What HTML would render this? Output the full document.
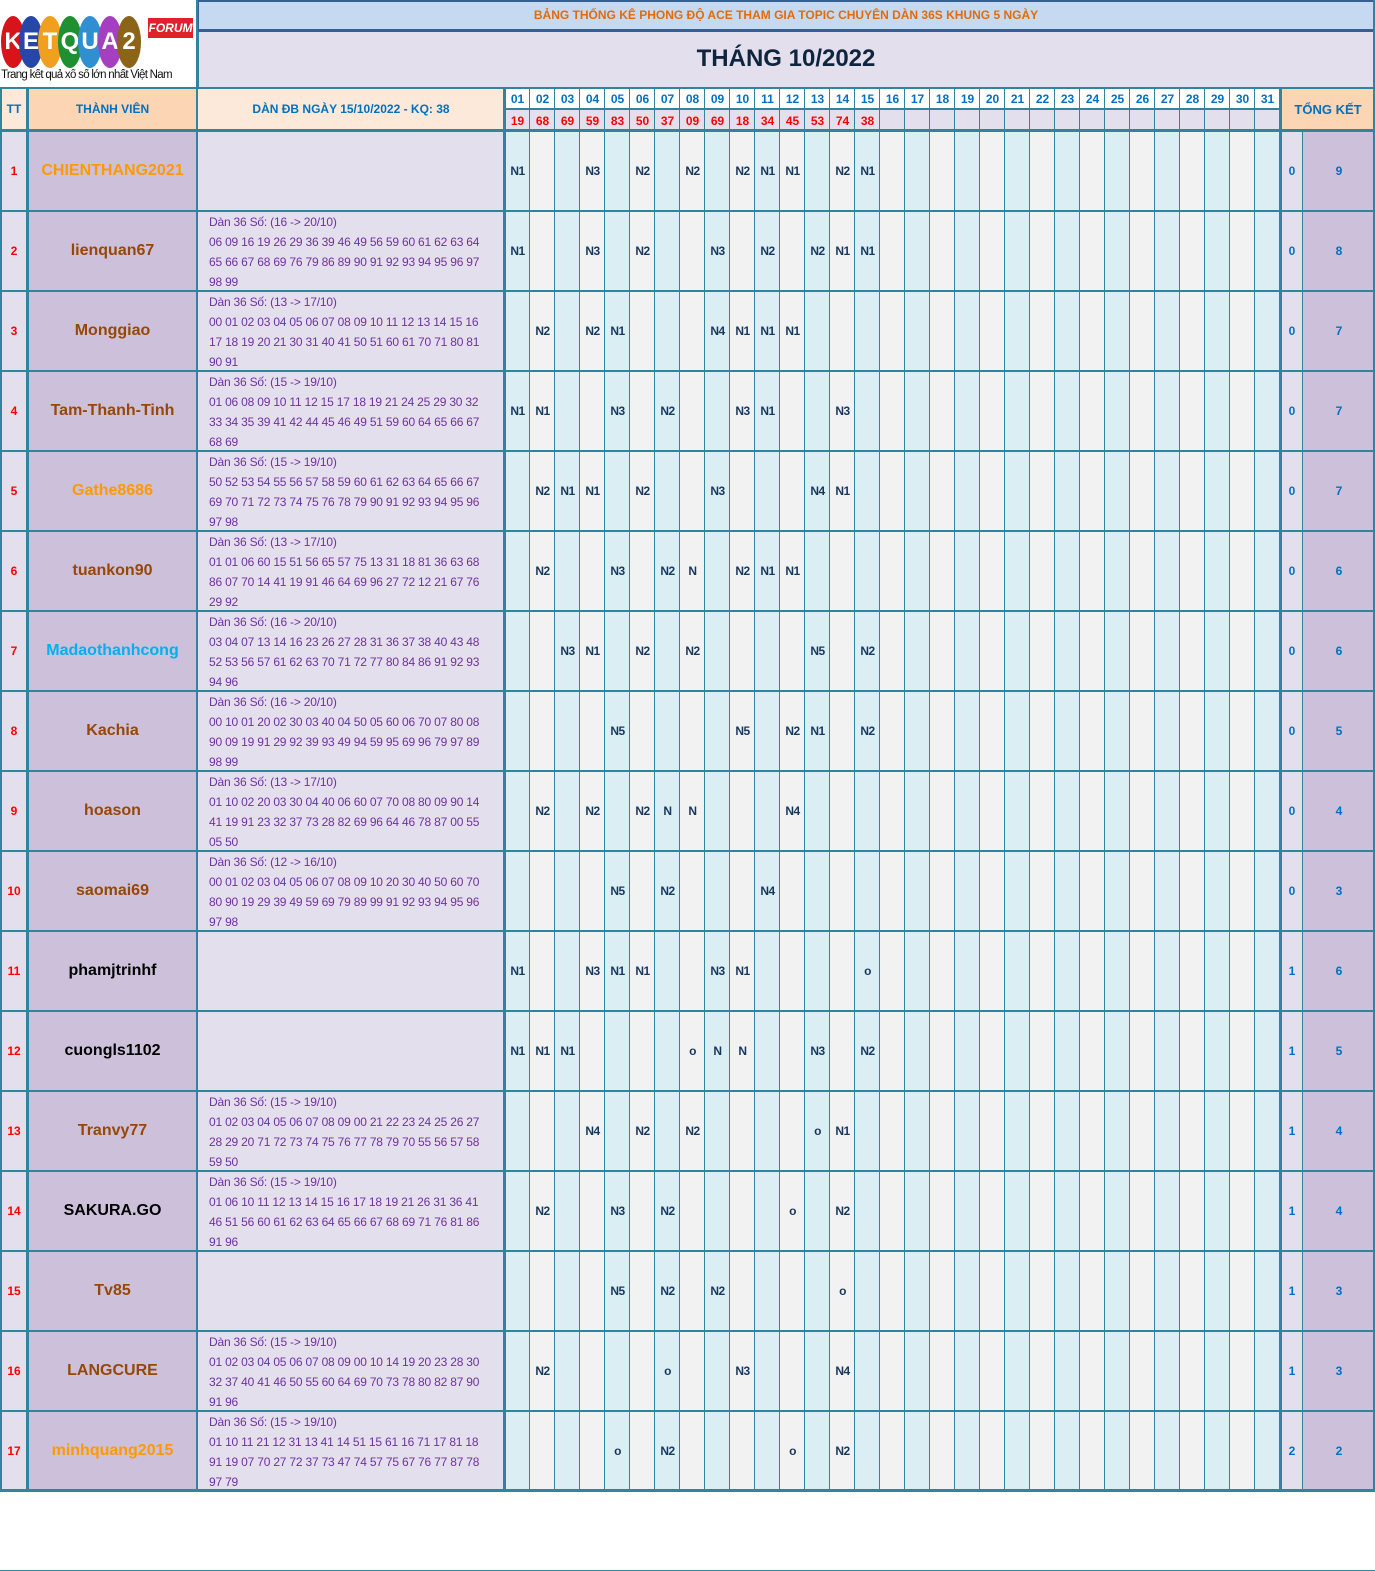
<!DOCTYPE html>
<html><head><meta charset="utf-8">
<style>
*{margin:0;padding:0;box-sizing:border-box}
body{width:1375px;height:1492px;background:#fff;position:relative;overflow:hidden;font-family:"Liberation Sans",sans-serif}
.a{position:absolute}
.row{position:absolute;left:0;width:1375px;height:80px}
.c{position:absolute;top:0;width:25px;line-height:80px;text-align:center;font-weight:bold;font-size:12px;color:#17375e;letter-spacing:-0.5px}
.tt{position:absolute;left:0;width:28px;line-height:80px;text-align:center;color:#ff0000;font-weight:bold;font-size:12px}
.nm{position:absolute;left:28px;width:169px;line-height:80px;text-align:center;font-weight:bold;font-size:16px;color:#974706}
.dn{position:absolute;left:209px;top:1px;width:292px;font-size:12px;line-height:20px;color:#7030a0;white-space:nowrap;letter-spacing:-0.2px}
.t1{position:absolute;left:1281px;width:22px;line-height:80px;text-align:center;color:#0070c0;font-weight:bold;font-size:12px}
.t2{position:absolute;left:1303px;width:72px;line-height:80px;text-align:center;color:#0070c0;font-weight:bold;font-size:12px}
.hd{position:absolute;width:25px;text-align:center;font-size:12px;font-weight:bold}
.oval{position:absolute;top:16px;width:24px;height:52px;border-radius:50%;color:#fff;font-weight:bold;font-size:24px;line-height:52px;text-align:center;font-family:"Liberation Sans",sans-serif}
</style></head><body>
<!-- logo -->
<div class="a" style="left:0;top:0;width:197px;height:88px;background:#fff"></div>
<div class="oval" style="left:1px;background:#d7141a">K</div>
<div class="oval" style="left:19px;background:#2747a8">E</div>
<div class="oval" style="left:38px;background:#f0a01e">T</div>
<div class="oval" style="left:58px;background:#1e9032">Q</div>
<div class="oval" style="left:78px;background:#2f8fd0">U</div>
<div class="oval" style="left:98px;background:#a53fc0">A</div>
<div class="oval" style="left:117px;background:#8b6418">2</div>
<div class="a" style="left:148px;top:18px;width:45px;height:20px;background:#e0202a;color:#fff;font-size:12px;font-weight:bold;font-style:italic;text-align:center;line-height:20px">FORUM</div>
<div class="a" style="left:1px;top:69px;width:195px;font-size:11.5px;color:#111;white-space:nowrap;letter-spacing:-0.7px;overflow:hidden">Trang kết quả xổ số lớn nhất Việt Nam</div>
<!-- title -->
<div class="a" style="left:197px;top:0;width:1178px;height:30px;background:#c5d9f1;border-left:2px solid #366092;border-top:2px solid #366092;border-right:2px solid #366092"></div>
<div class="a" style="left:197px;top:8px;width:1178px;text-align:center;color:#e26b0a;font-size:12px;font-weight:bold">BẢNG THỐNG KÊ PHONG ĐỘ ACE THAM GIA TOPIC CHUYÊN DÀN 36S KHUNG 5 NGÀY</div>
<div class="a" style="left:197px;top:29px;width:1178px;height:3px;background:#366092"></div>
<div class="a" style="left:197px;top:32px;width:1178px;height:56px;background:#e4dfec;border-left:2px solid #31849b;border-right:2px solid #31849b"></div>
<div class="a" style="left:197px;top:45px;width:1178px;text-align:center;color:#0f243e;font-size:24px;font-weight:bold">THÁNG 10/2022</div>
<!-- header row -->
<div class="a" style="left:0;top:88px;width:28px;height:43px;background:#fde9d9"></div>
<div class="a" style="left:28px;top:88px;width:169px;height:43px;background:#fcd5b4"></div>
<div class="a" style="left:197px;top:88px;width:308px;height:43px;background:#fde9d9"></div>
<div class="a" style="left:505px;top:88px;width:776px;height:22px;background:#fff"></div>
<div class="a" style="left:505px;top:110px;width:776px;height:21px;background:#e4dfec"></div>
<div class="a" style="left:1281px;top:88px;width:94px;height:43px;background:#fcd5b4"></div>
<div class="a" style="left:0;top:102px;width:28px;text-align:center;color:#0070c0;font-size:12px;font-weight:bold">TT</div>
<div class="a" style="left:28px;top:102px;width:169px;text-align:center;color:#0070c0;font-size:12px;font-weight:bold">THÀNH VIÊN</div>
<div class="a" style="left:197px;top:102px;width:308px;text-align:center;color:#0070c0;font-size:12px;font-weight:bold">DÀN ĐB NGÀY 15/10/2022 - KQ: 38</div>
<div class="a" style="left:1281px;top:102px;width:94px;text-align:center;color:#0070c0;font-size:13px;font-weight:bold">TỔNG KẾT</div>
<!-- body backgrounds -->
<div class="a" style="left:0;top:131px;width:28px;height:1361px;background:#e4dfec"></div>
<div class="a" style="left:28px;top:131px;width:169px;height:1361px;background:#ccc0da"></div>
<div class="a" style="left:197px;top:131px;width:308px;height:1361px;background:#e4dfec"></div>
<div class="a" style="left:505px;top:131px;width:775px;height:1361px;background:repeating-linear-gradient(90deg,#daeef3 0,#daeef3 25px,#f2f2f2 25px,#f2f2f2 50px)"></div>
<div class="a" style="left:1281px;top:131px;width:22px;height:1361px;background:#e4dfec"></div>
<div class="a" style="left:1303px;top:131px;width:72px;height:1361px;background:#ccc0da"></div>
<!-- vertical thin lines in day area -->
<div class="a" style="left:505px;top:88px;width:776px;height:1404px;background:repeating-linear-gradient(90deg,transparent 0,transparent 24px,#31849b 24px,#31849b 25px)"></div>
<!-- thick verticals -->
<div class="a" style="left:0;top:88px;width:2px;height:1404px;background:#31849b"></div>
<div class="a" style="left:26px;top:88px;width:3px;height:1404px;background:#31849b"></div>
<div class="a" style="left:196px;top:0;width:2px;height:1492px;background:#31849b"></div>
<div class="a" style="left:503px;top:88px;width:3px;height:1404px;background:#31849b"></div>
<div class="a" style="left:1279px;top:88px;width:3px;height:1404px;background:#31849b"></div>
<div class="a" style="left:1302px;top:131px;width:1px;height:1361px;background:#31849b"></div>
<div class="a" style="left:1373px;top:0;width:2px;height:1492px;background:#31849b"></div>
<!-- header lines -->
<div class="a" style="left:0;top:87px;width:1375px;height:2px;background:#31849b"></div>
<div class="a" style="left:505px;top:108px;width:776px;height:2px;background:#31849b"></div>
<div class="a" style="left:0;top:129px;width:1375px;height:3px;background:#31849b"></div>
<!-- horizontal row lines -->
<div class="a" style="left:0;top:210px;width:1375px;height:1361px;background:repeating-linear-gradient(180deg,#31849b 0,#31849b 2px,transparent 2px,transparent 80px)"></div>
<div class="a" style="left:0;top:1489px;width:1375px;height:3px;background:#31849b"></div>
<!-- day numbers -->
<div class="a" style="left:505px;top:92px;width:776px;display:flex;color:#0070c0;font-size:12px">
<span class="hd" style="position:static">01</span><span class="hd" style="position:static">02</span><span class="hd" style="position:static">03</span><span class="hd" style="position:static">04</span><span class="hd" style="position:static">05</span><span class="hd" style="position:static">06</span><span class="hd" style="position:static">07</span><span class="hd" style="position:static">08</span><span class="hd" style="position:static">09</span><span class="hd" style="position:static">10</span><span class="hd" style="position:static">11</span><span class="hd" style="position:static">12</span><span class="hd" style="position:static">13</span><span class="hd" style="position:static">14</span><span class="hd" style="position:static">15</span><span class="hd" style="position:static">16</span><span class="hd" style="position:static">17</span><span class="hd" style="position:static">18</span><span class="hd" style="position:static">19</span><span class="hd" style="position:static">20</span><span class="hd" style="position:static">21</span><span class="hd" style="position:static">22</span><span class="hd" style="position:static">23</span><span class="hd" style="position:static">24</span><span class="hd" style="position:static">25</span><span class="hd" style="position:static">26</span><span class="hd" style="position:static">27</span><span class="hd" style="position:static">28</span><span class="hd" style="position:static">29</span><span class="hd" style="position:static">30</span><span class="hd" style="position:static">31</span>
</div>
<div class="a" style="left:505px;top:114px;width:400px;display:flex;color:#ff0000;font-size:12px">
<span class="hd" style="position:static">19</span><span class="hd" style="position:static">68</span><span class="hd" style="position:static">69</span><span class="hd" style="position:static">59</span><span class="hd" style="position:static">83</span><span class="hd" style="position:static">50</span><span class="hd" style="position:static">37</span><span class="hd" style="position:static">09</span><span class="hd" style="position:static">69</span><span class="hd" style="position:static">18</span><span class="hd" style="position:static">34</span><span class="hd" style="position:static">45</span><span class="hd" style="position:static">53</span><span class="hd" style="position:static">74</span><span class="hd" style="position:static">38</span>
</div>

<!-- rows -->
<div class="row" style="top:131px"><div class="tt">1</div><div class="nm" style="color:#ff9900">CHIENTHANG2021</div>
<div class="c" style="left:505px">N1</div><div class="c" style="left:580px">N3</div><div class="c" style="left:630px">N2</div><div class="c" style="left:680px">N2</div><div class="c" style="left:730px">N2</div><div class="c" style="left:755px">N1</div><div class="c" style="left:780px">N1</div><div class="c" style="left:830px">N2</div><div class="c" style="left:855px">N1</div>
<div class="t1">0</div><div class="t2">9</div></div>

<div class="row" style="top:211px"><div class="tt">2</div><div class="nm">lienquan67</div>
<div class="dn">Dàn 36 Số: (16 -&gt; 20/10)<br>06 09 16 19 26 29 36 39 46 49 56 59 60 61 62 63 64<br>65 66 67 68 69 76 79 86 89 90 91 92 93 94 95 96 97<br>98 99</div>
<div class="c" style="left:505px">N1</div><div class="c" style="left:580px">N3</div><div class="c" style="left:630px">N2</div><div class="c" style="left:705px">N3</div><div class="c" style="left:755px">N2</div><div class="c" style="left:805px">N2</div><div class="c" style="left:830px">N1</div><div class="c" style="left:855px">N1</div>
<div class="t1">0</div><div class="t2">8</div></div>

<div class="row" style="top:291px"><div class="tt">3</div><div class="nm">Monggiao</div>
<div class="dn">Dàn 36 Số: (13 -&gt; 17/10)<br>00 01 02 03 04 05 06 07 08 09 10 11 12 13 14 15 16<br>17 18 19 20 21 30 31 40 41 50 51 60 61 70 71 80 81<br>90 91</div>
<div class="c" style="left:530px">N2</div><div class="c" style="left:580px">N2</div><div class="c" style="left:605px">N1</div><div class="c" style="left:705px">N4</div><div class="c" style="left:730px">N1</div><div class="c" style="left:755px">N1</div><div class="c" style="left:780px">N1</div>
<div class="t1">0</div><div class="t2">7</div></div>

<div class="row" style="top:371px"><div class="tt">4</div><div class="nm">Tam-Thanh-Tinh</div>
<div class="dn">Dàn 36 Số: (15 -&gt; 19/10)<br>01 06 08 09 10 11 12 15 17 18 19 21 24 25 29 30 32<br>33 34 35 39 41 42 44 45 46 49 51 59 60 64 65 66 67<br>68 69</div>
<div class="c" style="left:505px">N1</div><div class="c" style="left:530px">N1</div><div class="c" style="left:605px">N3</div><div class="c" style="left:655px">N2</div><div class="c" style="left:730px">N3</div><div class="c" style="left:755px">N1</div><div class="c" style="left:830px">N3</div>
<div class="t1">0</div><div class="t2">7</div></div>

<div class="row" style="top:451px"><div class="tt">5</div><div class="nm" style="color:#ff9900">Gathe8686</div>
<div class="dn">Dàn 36 Số: (15 -&gt; 19/10)<br>50 52 53 54 55 56 57 58 59 60 61 62 63 64 65 66 67<br>69 70 71 72 73 74 75 76 78 79 90 91 92 93 94 95 96<br>97 98</div>
<div class="c" style="left:530px">N2</div><div class="c" style="left:555px">N1</div><div class="c" style="left:580px">N1</div><div class="c" style="left:630px">N2</div><div class="c" style="left:705px">N3</div><div class="c" style="left:805px">N4</div><div class="c" style="left:830px">N1</div>
<div class="t1">0</div><div class="t2">7</div></div>

<div class="row" style="top:531px"><div class="tt">6</div><div class="nm">tuankon90</div>
<div class="dn">Dàn 36 Số: (13 -&gt; 17/10)<br>01 01 06 60 15 51 56 65 57 75 13 31 18 81 36 63 68<br>86 07 70 14 41 19 91 46 64 69 96 27 72 12 21 67 76<br>29 92</div>
<div class="c" style="left:530px">N2</div><div class="c" style="left:605px">N3</div><div class="c" style="left:655px">N2</div><div class="c" style="left:680px">N</div><div class="c" style="left:730px">N2</div><div class="c" style="left:755px">N1</div><div class="c" style="left:780px">N1</div>
<div class="t1">0</div><div class="t2">6</div></div>

<div class="row" style="top:611px"><div class="tt">7</div><div class="nm" style="color:#00b0f0">Madaothanhcong</div>
<div class="dn">Dàn 36 Số: (16 -&gt; 20/10)<br>03 04 07 13 14 16 23 26 27 28 31 36 37 38 40 43 48<br>52 53 56 57 61 62 63 70 71 72 77 80 84 86 91 92 93<br>94 96</div>
<div class="c" style="left:555px">N3</div><div class="c" style="left:580px">N1</div><div class="c" style="left:630px">N2</div><div class="c" style="left:680px">N2</div><div class="c" style="left:805px">N5</div><div class="c" style="left:855px">N2</div>
<div class="t1">0</div><div class="t2">6</div></div>

<div class="row" style="top:691px"><div class="tt">8</div><div class="nm">Kachia</div>
<div class="dn">Dàn 36 Số: (16 -&gt; 20/10)<br>00 10 01 20 02 30 03 40 04 50 05 60 06 70 07 80 08<br>90 09 19 91 29 92 39 93 49 94 59 95 69 96 79 97 89<br>98 99</div>
<div class="c" style="left:605px">N5</div><div class="c" style="left:730px">N5</div><div class="c" style="left:780px">N2</div><div class="c" style="left:805px">N1</div><div class="c" style="left:855px">N2</div>
<div class="t1">0</div><div class="t2">5</div></div>

<div class="row" style="top:771px"><div class="tt">9</div><div class="nm">hoason</div>
<div class="dn">Dàn 36 Số: (13 -&gt; 17/10)<br>01 10 02 20 03 30 04 40 06 60 07 70 08 80 09 90 14<br>41 19 91 23 32 37 73 28 82 69 96 64 46 78 87 00 55<br>05 50</div>
<div class="c" style="left:530px">N2</div><div class="c" style="left:580px">N2</div><div class="c" style="left:630px">N2</div><div class="c" style="left:655px">N</div><div class="c" style="left:680px">N</div><div class="c" style="left:780px">N4</div>
<div class="t1">0</div><div class="t2">4</div></div>

<div class="row" style="top:851px"><div class="tt">10</div><div class="nm">saomai69</div>
<div class="dn">Dàn 36 Số: (12 -&gt; 16/10)<br>00 01 02 03 04 05 06 07 08 09 10 20 30 40 50 60 70<br>80 90 19 29 39 49 59 69 79 89 99 91 92 93 94 95 96<br>97 98</div>
<div class="c" style="left:605px">N5</div><div class="c" style="left:655px">N2</div><div class="c" style="left:755px">N4</div>
<div class="t1">0</div><div class="t2">3</div></div>

<div class="row" style="top:931px"><div class="tt">11</div><div class="nm" style="color:#000">phamjtrinhf</div>
<div class="c" style="left:505px">N1</div><div class="c" style="left:580px">N3</div><div class="c" style="left:605px">N1</div><div class="c" style="left:630px">N1</div><div class="c" style="left:705px">N3</div><div class="c" style="left:730px">N1</div><div class="c" style="left:855px">o</div>
<div class="t1">1</div><div class="t2">6</div></div>

<div class="row" style="top:1011px"><div class="tt">12</div><div class="nm" style="color:#000">cuongls1102</div>
<div class="c" style="left:505px">N1</div><div class="c" style="left:530px">N1</div><div class="c" style="left:555px">N1</div><div class="c" style="left:680px">o</div><div class="c" style="left:705px">N</div><div class="c" style="left:730px">N</div><div class="c" style="left:805px">N3</div><div class="c" style="left:855px">N2</div>
<div class="t1">1</div><div class="t2">5</div></div>

<div class="row" style="top:1091px"><div class="tt">13</div><div class="nm">Tranvy77</div>
<div class="dn">Dàn 36 Số: (15 -&gt; 19/10)<br>01 02 03 04 05 06 07 08 09 00 21 22 23 24 25 26 27<br>28 29 20 71 72 73 74 75 76 77 78 79 70 55 56 57 58<br>59 50</div>
<div class="c" style="left:580px">N4</div><div class="c" style="left:630px">N2</div><div class="c" style="left:680px">N2</div><div class="c" style="left:805px">o</div><div class="c" style="left:830px">N1</div>
<div class="t1">1</div><div class="t2">4</div></div>

<div class="row" style="top:1171px"><div class="tt">14</div><div class="nm" style="color:#000">SAKURA.GO</div>
<div class="dn">Dàn 36 Số: (15 -&gt; 19/10)<br>01 06 10 11 12 13 14 15 16 17 18 19 21 26 31 36 41<br>46 51 56 60 61 62 63 64 65 66 67 68 69 71 76 81 86<br>91 96</div>
<div class="c" style="left:530px">N2</div><div class="c" style="left:605px">N3</div><div class="c" style="left:655px">N2</div><div class="c" style="left:780px">o</div><div class="c" style="left:830px">N2</div>
<div class="t1">1</div><div class="t2">4</div></div>

<div class="row" style="top:1251px"><div class="tt">15</div><div class="nm">Tv85</div>
<div class="c" style="left:605px">N5</div><div class="c" style="left:655px">N2</div><div class="c" style="left:705px">N2</div><div class="c" style="left:830px">o</div>
<div class="t1">1</div><div class="t2">3</div></div>

<div class="row" style="top:1331px"><div class="tt">16</div><div class="nm">LANGCURE</div>
<div class="dn">Dàn 36 Số: (15 -&gt; 19/10)<br>01 02 03 04 05 06 07 08 09 00 10 14 19 20 23 28 30<br>32 37 40 41 46 50 55 60 64 69 70 73 78 80 82 87 90<br>91 96</div>
<div class="c" style="left:530px">N2</div><div class="c" style="left:655px">o</div><div class="c" style="left:730px">N3</div><div class="c" style="left:830px">N4</div>
<div class="t1">1</div><div class="t2">3</div></div>

<div class="row" style="top:1411px"><div class="tt">17</div><div class="nm" style="color:#ff9900">minhquang2015</div>
<div class="dn">Dàn 36 Số: (15 -&gt; 19/10)<br>01 10 11 21 12 31 13 41 14 51 15 61 16 71 17 81 18<br>91 19 07 70 27 72 37 73 47 74 57 75 67 76 77 87 78<br>97 79</div>
<div class="c" style="left:605px">o</div><div class="c" style="left:655px">N2</div><div class="c" style="left:780px">o</div><div class="c" style="left:830px">N2</div>
<div class="t1">2</div><div class="t2">2</div></div>
</body></html>
